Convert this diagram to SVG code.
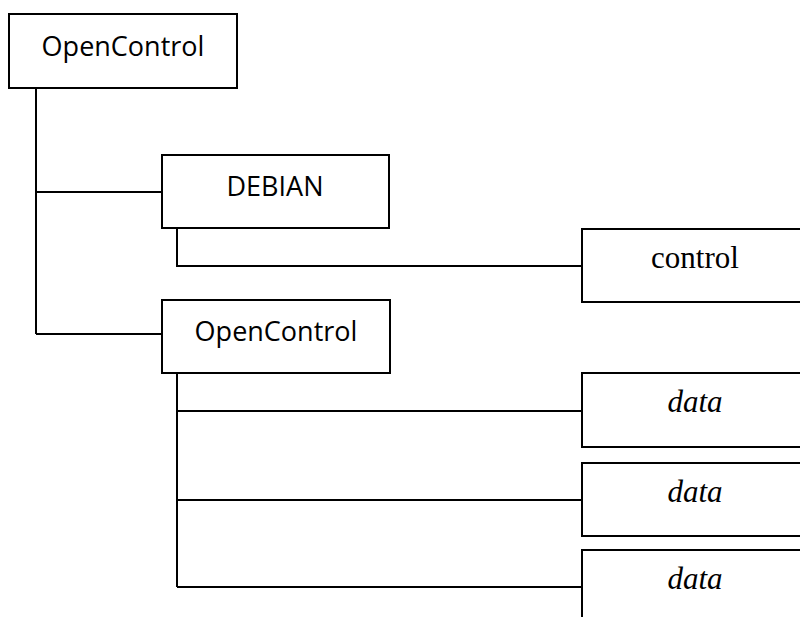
<svg xmlns="http://www.w3.org/2000/svg" width="800" height="617" viewBox="0 0 800 617">
  <style>
    .box { fill: #ffffff; stroke: #000000; stroke-width: 2; }
    .wire { fill: none; stroke: #000000; stroke-width: 2; }
    .sans { font-family: "Open Sans", "Lato", "DejaVu Sans", sans-serif; font-size: 27px; fill: #000000; text-anchor: middle; }
    .serif { font-family: "Liberation Serif", "Times New Roman", serif; font-size: 31px; fill: #000000; text-anchor: middle; }
    .ital { font-style: italic; }
  </style>
  <rect width="800" height="617" fill="#ffffff"/>

  <!-- tree branches -->
  <g id="connectors">
    <path class="wire" d="M36 88 V334"/>
    <path class="wire" d="M36 192 H162"/>
    <path class="wire" d="M36 334 H162"/>
    <path class="wire" d="M177 228 V266 H582"/>
    <path class="wire" d="M177 373 V587"/>
    <path class="wire" d="M177 411 H582"/>
    <path class="wire" d="M177 500 H582"/>
    <path class="wire" d="M177 587 H582"/>
  </g>

  <g id="root-opencontrol">
    <rect class="box" x="9" y="14" width="228" height="74"/>
    <text class="sans" x="123" y="56">OpenControl</text>
  </g>

  <g id="debian">
    <rect class="box" x="162" y="155" width="227" height="73"/>
    <text class="sans" x="275" y="196">DEBIAN</text>
  </g>

  <g id="control">
    <rect class="box" x="582" y="229" width="240" height="73"/>
    <text class="serif" x="695" y="268">control</text>
  </g>

  <g id="opencontrol">
    <rect class="box" x="162" y="300" width="228" height="73"/>
    <text class="sans" x="276" y="341">OpenControl</text>
  </g>

  <g id="data-1">
    <rect class="box" x="582" y="373" width="240" height="74"/>
    <text class="serif ital" x="695" y="412">data</text>
  </g>

  <g id="data-2">
    <rect class="box" x="582" y="463" width="240" height="73"/>
    <text class="serif ital" x="695" y="502">data</text>
  </g>

  <g id="data-3">
    <rect class="box" x="582" y="550" width="240" height="100"/>
    <text class="serif ital" x="695" y="589">data</text>
  </g>
</svg>
